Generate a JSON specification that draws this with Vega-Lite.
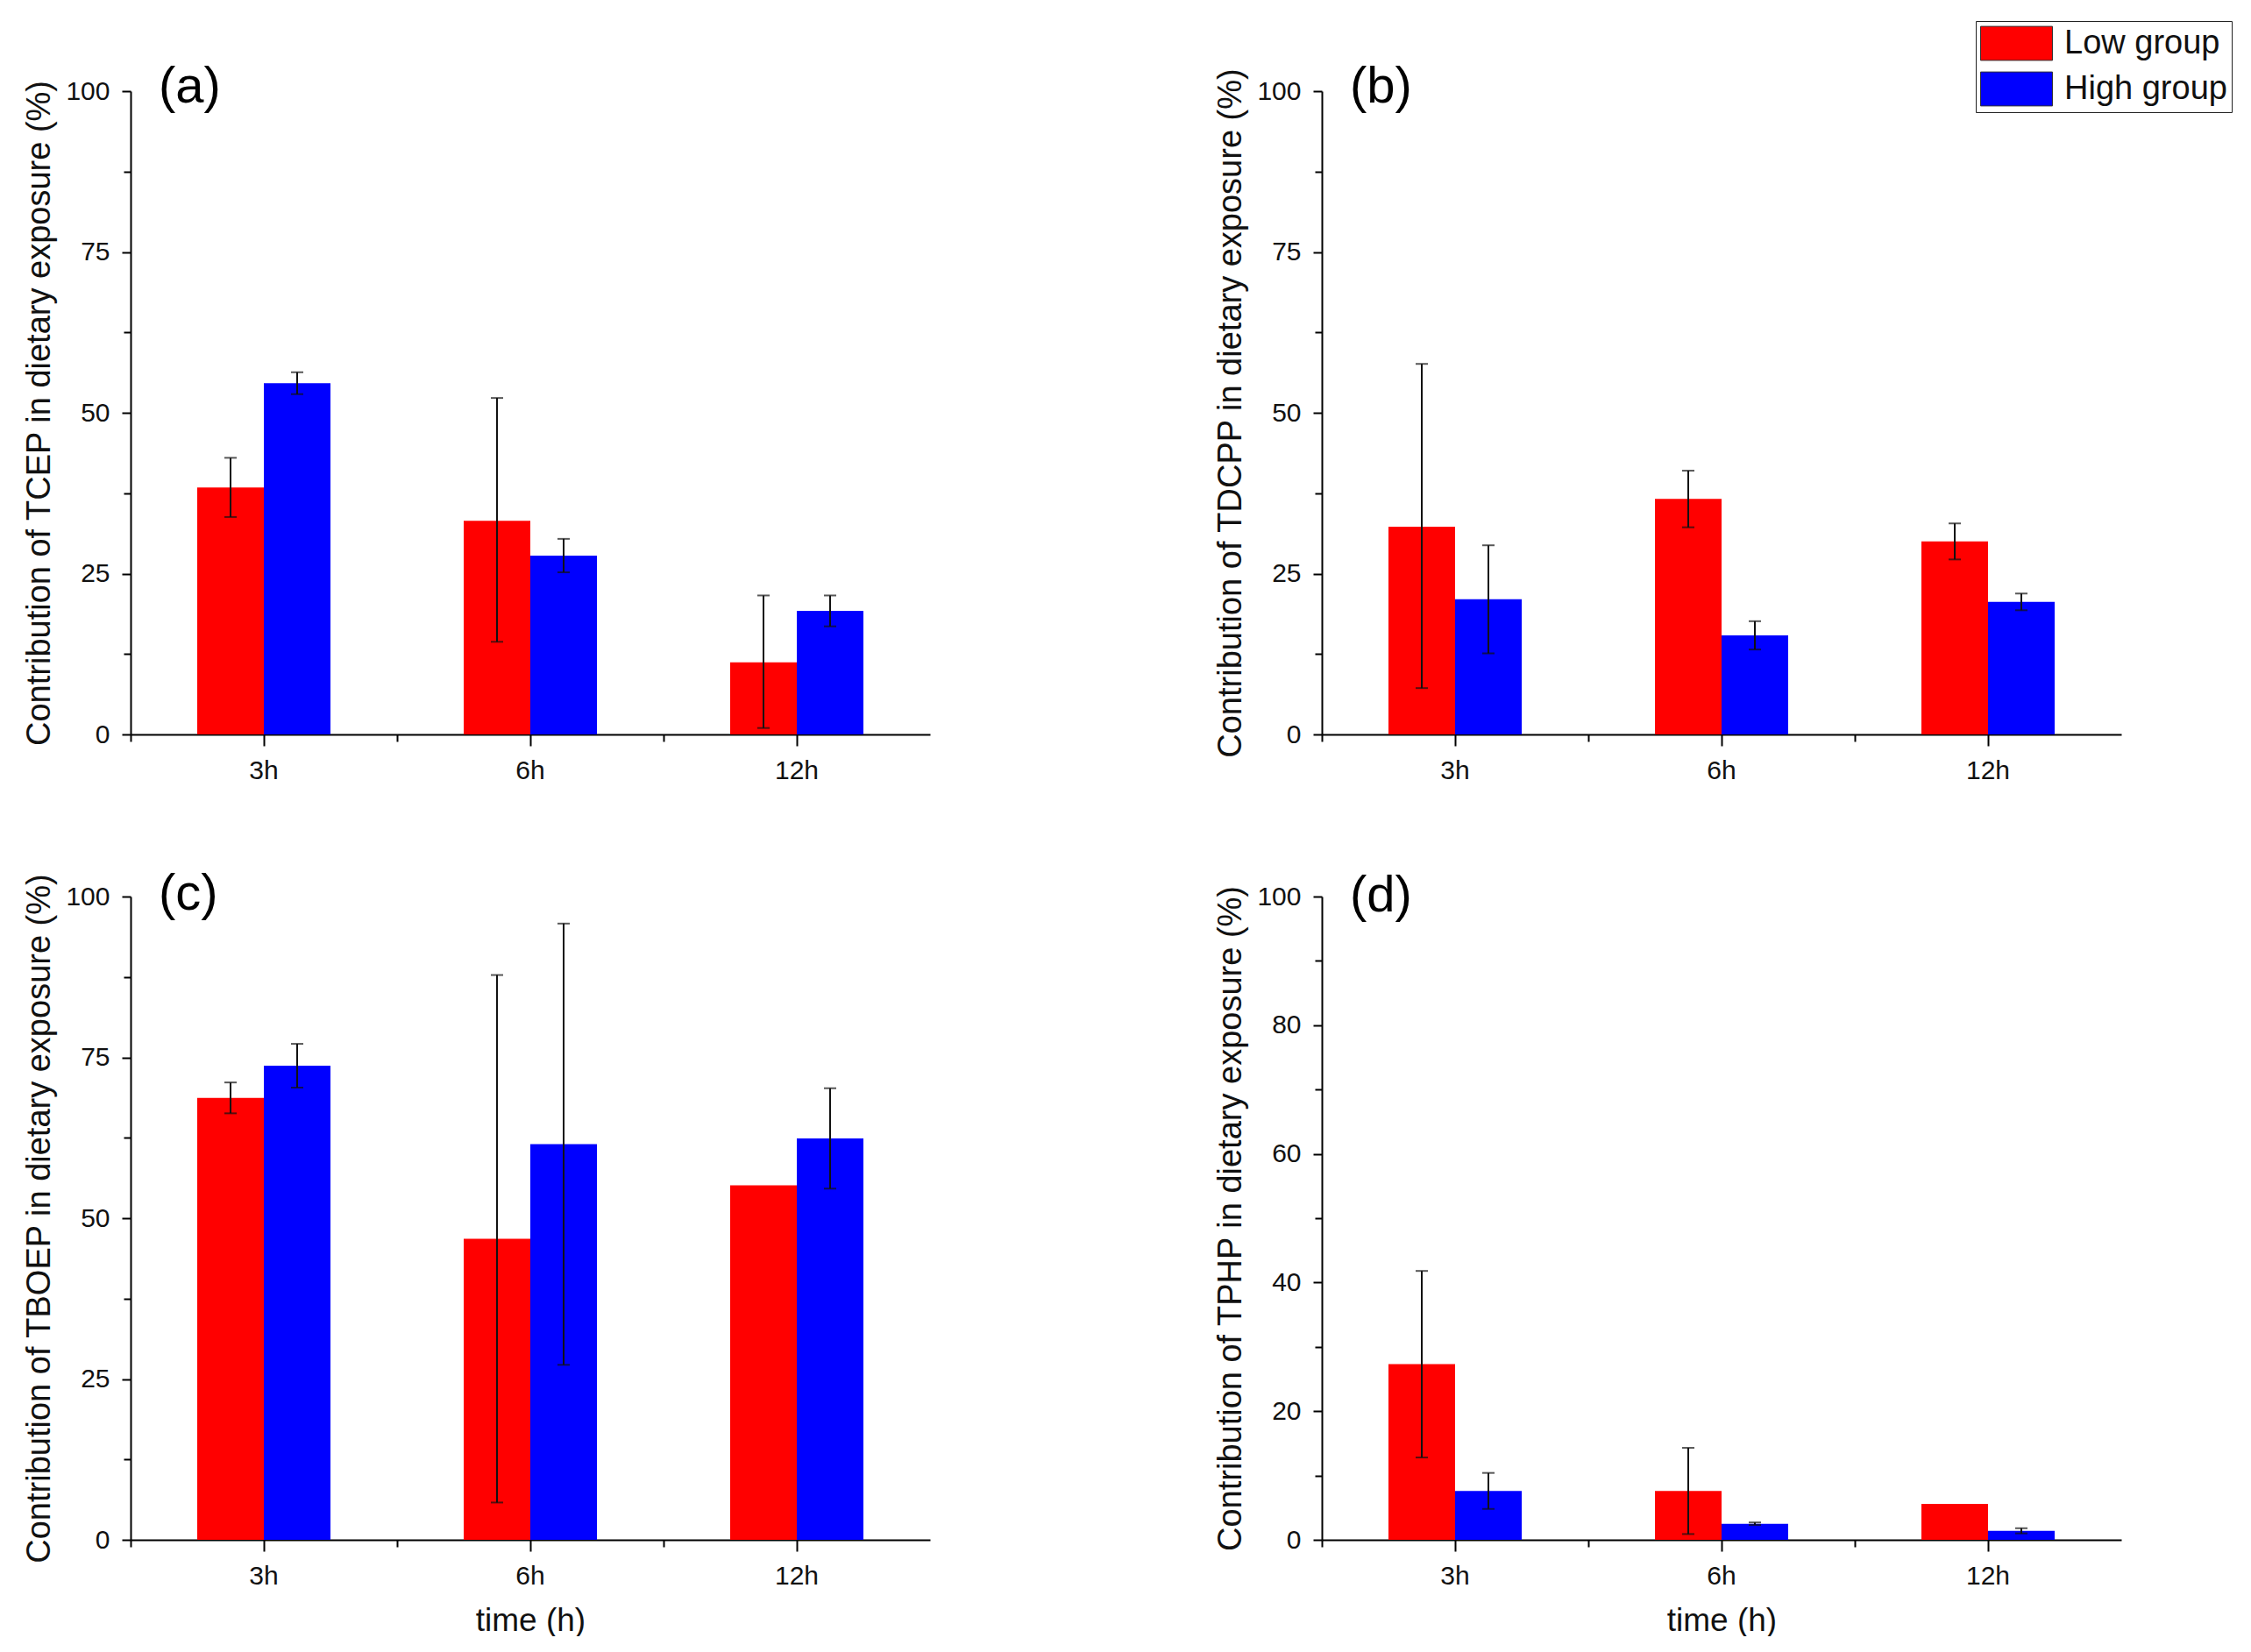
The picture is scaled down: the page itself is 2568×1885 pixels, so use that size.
{
  "$schema": "https://vega.github.io/schema/vega-lite/v6.json",
  "background": "white",
  "padding": {"left": 26, "top": 23, "right": 10, "bottom": 0},
  "config": {
    "font": "Liberation Sans",
    "view": {"stroke": null},
    "axis": {"grid": false, "domainColor": "#000", "domainWidth": 2, "tickColor": "#000", "tickWidth": 2, "labelColor": "#111", "titleColor": "#111", "labelFont": "Liberation Sans", "titleFont": "Liberation Sans", "titleFontWeight": "normal"},
    "title": {"font": "Liberation Sans", "fontWeight": "normal", "color": "#000"},
    "legend": {"labelFont": "Liberation Sans"}
  },
  "datasets": {
    "d": [
      {"panel": "a", "time": "3h", "group": "Low group", "value": 38.4, "lo": 33.8, "hi": 43.0},
      {"panel": "a", "time": "3h", "group": "High group", "value": 54.6, "lo": 52.9, "hi": 56.3},
      {"panel": "a", "time": "6h", "group": "Low group", "value": 33.2, "lo": 14.4, "hi": 52.3},
      {"panel": "a", "time": "6h", "group": "High group", "value": 27.8, "lo": 25.2, "hi": 30.4},
      {"panel": "a", "time": "12h", "group": "Low group", "value": 11.2, "lo": 1.0, "hi": 21.6},
      {"panel": "a", "time": "12h", "group": "High group", "value": 19.2, "lo": 16.8, "hi": 21.6},
      {"panel": "b", "time": "3h", "group": "Low group", "value": 32.3, "lo": 7.2, "hi": 57.6},
      {"panel": "b", "time": "3h", "group": "High group", "value": 21.0, "lo": 12.6, "hi": 29.4},
      {"panel": "b", "time": "6h", "group": "Low group", "value": 36.6, "lo": 32.2, "hi": 41.0},
      {"panel": "b", "time": "6h", "group": "High group", "value": 15.4, "lo": 13.2, "hi": 17.6},
      {"panel": "b", "time": "12h", "group": "Low group", "value": 30.0, "lo": 27.2, "hi": 32.8},
      {"panel": "b", "time": "12h", "group": "High group", "value": 20.6, "lo": 19.3, "hi": 21.9},
      {"panel": "c", "time": "3h", "group": "Low group", "value": 68.7, "lo": 66.3, "hi": 71.1},
      {"panel": "c", "time": "3h", "group": "High group", "value": 73.7, "lo": 70.3, "hi": 77.1},
      {"panel": "c", "time": "6h", "group": "Low group", "value": 46.8, "lo": 5.8, "hi": 87.8},
      {"panel": "c", "time": "6h", "group": "High group", "value": 61.5, "lo": 27.2, "hi": 95.8},
      {"panel": "c", "time": "12h", "group": "Low group", "value": 55.1, "lo": null, "hi": null},
      {"panel": "c", "time": "12h", "group": "High group", "value": 62.4, "lo": 54.6, "hi": 70.2},
      {"panel": "d", "time": "3h", "group": "Low group", "value": 27.3, "lo": 12.8, "hi": 41.8},
      {"panel": "d", "time": "3h", "group": "High group", "value": 7.6, "lo": 4.8, "hi": 10.4},
      {"panel": "d", "time": "6h", "group": "Low group", "value": 7.6, "lo": 0.9, "hi": 14.3},
      {"panel": "d", "time": "6h", "group": "High group", "value": 2.5, "lo": 2.3, "hi": 2.7},
      {"panel": "d", "time": "12h", "group": "Low group", "value": 5.6, "lo": null, "hi": null},
      {"panel": "d", "time": "12h", "group": "High group", "value": 1.4, "lo": 1.0, "hi": 1.8}
    ]
  },
  "columns": 2,
  "bounds": "flush",
  "spacing": {"row": 185, "column": 447},
  "concat": [
    {
      "width": 912, "height": 734,
      "data": {"name": "d"},
      "transform": [{"filter": "datum.panel === 'a'"}],
      "title": {"text": "(a)", "anchor": "start", "frame": "group", "orient": "top", "offset": -86, "dx": 32, "baseline": "alphabetic", "fontSize": 58},
      "encoding": {"xOffset": {"field": "group", "type": "nominal", "scale": {"domain": ["Low group", "High group"], "paddingInner": 0, "paddingOuter": 0}}},
      "layer": [
        {"mark": {"type": "bar"},
         "encoding": {
           "x": {"field": "time", "type": "nominal", "scale": {"domain": ["3h", "6h", "12h"], "paddingInner": 0.5, "paddingOuter": 0.25}, "axis": {"title": null, "labelAngle": 0, "labelFontSize": 30, "tickSize": 13, "labelPadding": 13}},
           "y": {"field": "value", "type": "quantitative", "scale": {"domain": [0, 100]}, "axis": {"title": "Contribution of TCEP in dietary exposure (%)", "values": [0, 25, 50, 75, 100], "labelFontSize": 30, "titleFontSize": 38, "tickSize": 10, "labelPadding": 14, "titlePadding": 10}},
           "color": {"field": "group", "type": "nominal", "scale": {"domain": ["Low group", "High group"], "range": ["#ff0000", "#0000ff"]}, "legend": null}
         }},
        {"mark": {"type": "rule", "color": "#111", "strokeWidth": 2},
         "encoding": {
           "x": {"field": "time", "type": "nominal", "scale": {"domain": ["3h", "6h", "12h"], "paddingInner": 0.5, "paddingOuter": 0.25}, "axis": {"orient": "bottom", "title": null, "labels": false, "domain": false, "tickOffset": -152, "tickSize": 8}},
           "y": {"field": "lo", "type": "quantitative", "scale": {"domain": [0, 100]}, "axis": {"orient": "left", "title": null, "labels": false, "domain": false, "values": [12.5, 37.5, 62.5, 87.5], "tickSize": 8}},
           "y2": {"field": "hi"}
         }},
        {"mark": {"type": "tick", "color": "#111", "thickness": 2, "size": 14},
         "encoding": {
           "x": {"field": "time", "type": "nominal", "axis": null},
           "y": {"field": "lo", "type": "quantitative", "scale": {"domain": [0, 100]}, "axis": null}
         }},
        {"mark": {"type": "tick", "color": "#111", "thickness": 2, "size": 14},
         "encoding": {
           "x": {"field": "time", "type": "nominal", "axis": null},
           "y": {"field": "hi", "type": "quantitative", "scale": {"domain": [0, 100]}, "axis": null}
         }}
      ],
      "resolve": {"axis": {"x": "independent", "y": "independent"}}
    },
    {
      "width": 912, "height": 734,
      "data": {"name": "d"},
      "transform": [{"filter": "datum.panel === 'b'"}],
      "title": {"text": "(b)", "anchor": "start", "frame": "group", "orient": "top", "offset": -151, "dx": 32, "baseline": "alphabetic", "fontSize": 58},
      "encoding": {"xOffset": {"field": "group", "type": "nominal", "scale": {"domain": ["Low group", "High group"], "paddingInner": 0, "paddingOuter": 0}}},
      "layer": [
        {"mark": {"type": "bar"},
         "encoding": {
           "x": {"field": "time", "type": "nominal", "scale": {"domain": ["3h", "6h", "12h"], "paddingInner": 0.5, "paddingOuter": 0.25}, "axis": {"title": null, "labelAngle": 0, "labelFontSize": 30, "tickSize": 13, "labelPadding": 13}},
           "y": {"field": "value", "type": "quantitative", "scale": {"domain": [0, 100]}, "axis": {"title": "Contribution of TDCPP in dietary exposure (%)", "values": [0, 25, 50, 75, 100], "labelFontSize": 30, "titleFontSize": 38, "tickSize": 10, "labelPadding": 14, "titlePadding": 10}},
           "color": {"field": "group", "type": "nominal", "scale": {"domain": ["Low group", "High group"], "range": ["#ff0000", "#0000ff"]},
             "legend": {"title": null, "orient": "none", "legendX": 746, "legendY": -80, "labelFontSize": 38, "labelLimit": 400, "labelColor": "#111", "symbolType": "M-1,-0.97H3.1V0.97H-1Z", "symbolSize": 1600, "symbolStrokeWidth": 1, "symbolStrokeColor": "#333", "symbolOpacity": 1, "rowPadding": 9, "labelOffset": 55, "strokeColor": "#222", "padding": 5, "fillColor": "white"}}
         }},
        {"mark": {"type": "rule", "color": "#111", "strokeWidth": 2},
         "encoding": {
           "x": {"field": "time", "type": "nominal", "scale": {"domain": ["3h", "6h", "12h"], "paddingInner": 0.5, "paddingOuter": 0.25}, "axis": {"orient": "bottom", "title": null, "labels": false, "domain": false, "tickOffset": -152, "tickSize": 8}},
           "y": {"field": "lo", "type": "quantitative", "scale": {"domain": [0, 100]}, "axis": {"orient": "left", "title": null, "labels": false, "domain": false, "values": [12.5, 37.5, 62.5, 87.5], "tickSize": 8}},
           "y2": {"field": "hi"}
         }},
        {"mark": {"type": "tick", "color": "#111", "thickness": 2, "size": 14},
         "encoding": {
           "x": {"field": "time", "type": "nominal", "axis": null},
           "y": {"field": "lo", "type": "quantitative", "scale": {"domain": [0, 100]}, "axis": null}
         }},
        {"mark": {"type": "tick", "color": "#111", "thickness": 2, "size": 14},
         "encoding": {
           "x": {"field": "time", "type": "nominal", "axis": null},
           "y": {"field": "hi", "type": "quantitative", "scale": {"domain": [0, 100]}, "axis": null}
         }}
      ],
      "resolve": {"axis": {"x": "independent", "y": "independent"}}
    },
    {
      "width": 912, "height": 734,
      "data": {"name": "d"},
      "transform": [{"filter": "datum.panel === 'c'"}],
      "title": {"text": "(c)", "anchor": "start", "frame": "group", "orient": "top", "offset": -100, "dx": 32, "baseline": "alphabetic", "fontSize": 58},
      "encoding": {"xOffset": {"field": "group", "type": "nominal", "scale": {"domain": ["Low group", "High group"], "paddingInner": 0, "paddingOuter": 0}}},
      "layer": [
        {"mark": {"type": "bar"},
         "encoding": {
           "x": {"field": "time", "type": "nominal", "scale": {"domain": ["3h", "6h", "12h"], "paddingInner": 0.5, "paddingOuter": 0.25}, "axis": {"title": "time (h)", "titleFontSize": 37, "titlePadding": 18, "labelAngle": 0, "labelFontSize": 30, "tickSize": 13, "labelPadding": 13}},
           "y": {"field": "value", "type": "quantitative", "scale": {"domain": [0, 100]}, "axis": {"title": "Contribution of TBOEP in dietary exposure (%)", "values": [0, 25, 50, 75, 100], "labelFontSize": 30, "titleFontSize": 38, "tickSize": 10, "labelPadding": 14, "titlePadding": 10}},
           "color": {"field": "group", "type": "nominal", "scale": {"domain": ["Low group", "High group"], "range": ["#ff0000", "#0000ff"]}, "legend": null}
         }},
        {"mark": {"type": "rule", "color": "#111", "strokeWidth": 2},
         "encoding": {
           "x": {"field": "time", "type": "nominal", "scale": {"domain": ["3h", "6h", "12h"], "paddingInner": 0.5, "paddingOuter": 0.25}, "axis": {"orient": "bottom", "title": null, "labels": false, "domain": false, "tickOffset": -152, "tickSize": 8}},
           "y": {"field": "lo", "type": "quantitative", "scale": {"domain": [0, 100]}, "axis": {"orient": "left", "title": null, "labels": false, "domain": false, "values": [12.5, 37.5, 62.5, 87.5], "tickSize": 8}},
           "y2": {"field": "hi"}
         }},
        {"mark": {"type": "tick", "color": "#111", "thickness": 2, "size": 14},
         "encoding": {
           "x": {"field": "time", "type": "nominal", "axis": null},
           "y": {"field": "lo", "type": "quantitative", "scale": {"domain": [0, 100]}, "axis": null}
         }},
        {"mark": {"type": "tick", "color": "#111", "thickness": 2, "size": 14},
         "encoding": {
           "x": {"field": "time", "type": "nominal", "axis": null},
           "y": {"field": "hi", "type": "quantitative", "scale": {"domain": [0, 100]}, "axis": null}
         }}
      ],
      "resolve": {"axis": {"x": "independent", "y": "independent"}}
    },
    {
      "width": 912, "height": 734,
      "data": {"name": "d"},
      "transform": [{"filter": "datum.panel === 'd'"}],
      "title": {"text": "(d)", "anchor": "start", "frame": "group", "orient": "top", "offset": -90, "dx": 32, "baseline": "alphabetic", "fontSize": 58},
      "encoding": {"xOffset": {"field": "group", "type": "nominal", "scale": {"domain": ["Low group", "High group"], "paddingInner": 0, "paddingOuter": 0}}},
      "layer": [
        {"mark": {"type": "bar"},
         "encoding": {
           "x": {"field": "time", "type": "nominal", "scale": {"domain": ["3h", "6h", "12h"], "paddingInner": 0.5, "paddingOuter": 0.25}, "axis": {"title": "time (h)", "titleFontSize": 37, "titlePadding": 18, "labelAngle": 0, "labelFontSize": 30, "tickSize": 13, "labelPadding": 13}},
           "y": {"field": "value", "type": "quantitative", "scale": {"domain": [0, 100]}, "axis": {"title": "Contribution of TPHP in dietary exposure (%)", "values": [0, 20, 40, 60, 80, 100], "labelFontSize": 30, "titleFontSize": 38, "tickSize": 10, "labelPadding": 14, "titlePadding": 10}},
           "color": {"field": "group", "type": "nominal", "scale": {"domain": ["Low group", "High group"], "range": ["#ff0000", "#0000ff"]}, "legend": null}
         }},
        {"mark": {"type": "rule", "color": "#111", "strokeWidth": 2},
         "encoding": {
           "x": {"field": "time", "type": "nominal", "scale": {"domain": ["3h", "6h", "12h"], "paddingInner": 0.5, "paddingOuter": 0.25}, "axis": {"orient": "bottom", "title": null, "labels": false, "domain": false, "tickOffset": -152, "tickSize": 8}},
           "y": {"field": "lo", "type": "quantitative", "scale": {"domain": [0, 100]}, "axis": {"orient": "left", "title": null, "labels": false, "domain": false, "values": [10, 30, 50, 70, 90], "tickSize": 8}},
           "y2": {"field": "hi"}
         }},
        {"mark": {"type": "tick", "color": "#111", "thickness": 2, "size": 14},
         "encoding": {
           "x": {"field": "time", "type": "nominal", "axis": null},
           "y": {"field": "lo", "type": "quantitative", "scale": {"domain": [0, 100]}, "axis": null}
         }},
        {"mark": {"type": "tick", "color": "#111", "thickness": 2, "size": 14},
         "encoding": {
           "x": {"field": "time", "type": "nominal", "axis": null},
           "y": {"field": "hi", "type": "quantitative", "scale": {"domain": [0, 100]}, "axis": null}
         }}
      ],
      "resolve": {"axis": {"x": "independent", "y": "independent"}}
    }
  ],
  "resolve": {"legend": {"color": "independent"}}
}
